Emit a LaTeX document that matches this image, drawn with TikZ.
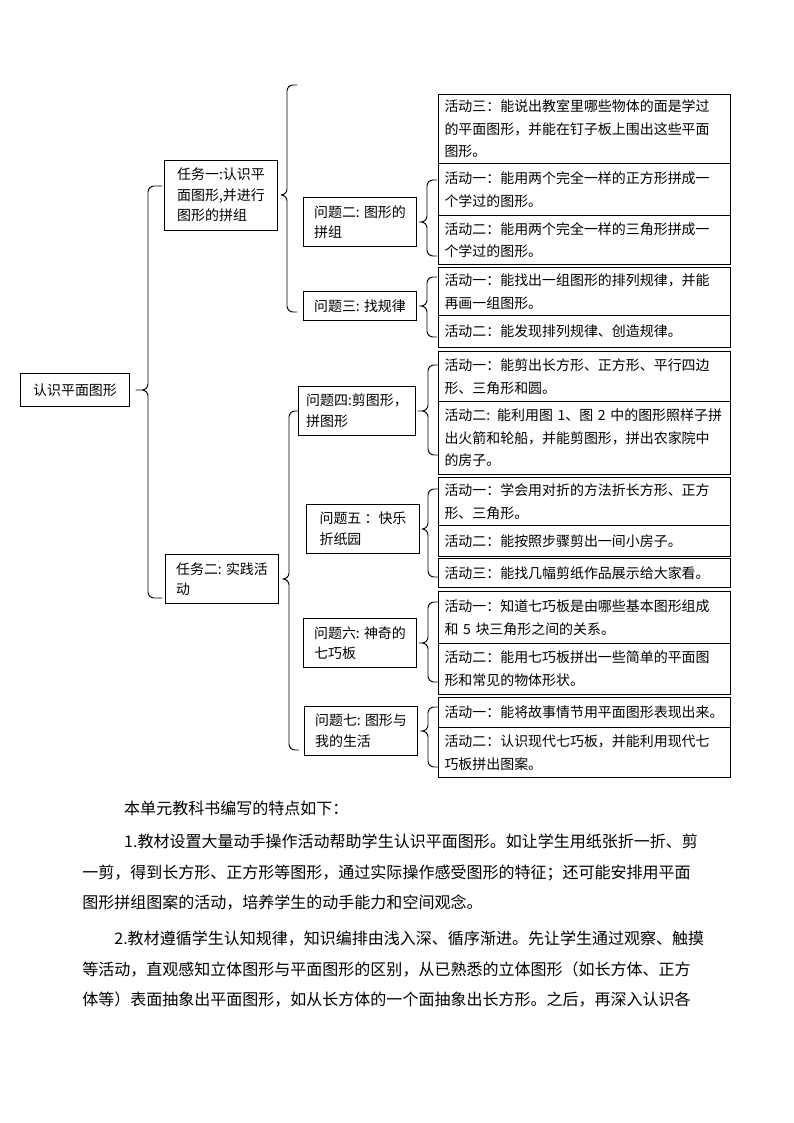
\documentclass[tikz,border=0pt]{standalone}
\usepackage{fontspec}
\setmainfont{Noto Sans CJK SC}
\usetikzlibrary{calc}

\begin{document}
\begin{tikzpicture}[
            x=0.2645mm, y=-0.2645mm,
            every node/.style = {font=\fontsize{10.5pt}{15.5pt}\selectfont},
            box/.style = {draw, line width=0.7pt, align=left, minimum width=30mm,
                    inner xsep=2mm, inner ysep=2.1mm},
            leaf/.style = {draw, line width=0.7pt, anchor=north west, align=left,
                    text width=74mm, inner xsep=1.6mm, inner ysep=1pt,
                    minimum height=#1*0.2645mm, font=\fontsize{10.5pt}{17pt}\selectfont},
            brace/.style = {line width=0.7pt, rounded corners=1.6mm},
            para/.style = {anchor=north west, align=left, inner sep=0pt,
                    font=\fontsize{12.05pt}{22.9pt}\selectfont}]

        \useasboundingbox (0,0) rectangle (794,1123);

        % Tree
        \node [box, minimum width=28.6mm, minimum height=8.7mm]
                            (root) at (75,390) {认识平面图形};
        \node [box]         (t1) at (221,195) {任务一:认识平\\面图形,并进行\\图形的拼组};
        \node [box]         (t2) at (222,579) {任务二: 实践活\\动};
        \node [box]         (q2) at (360,222) {问题二: 图形的\\拼组};
        \node [box]         (q3) at (360,306) {问题三: 找规律};
        \node [box]         (q4) at (357,411) {问题四:剪图形，\\拼图形};
        \node [box]         (q5) at (363,529) {问题五 ：快乐\\折纸园};
        \node [box]         (q6) at (360,643) {问题六: 神奇的\\七巧板};
        \node [box]         (q7) at (361,731) {问题七: 图形与\\我的生活};

        % Activities
        \node [leaf=69] (t1a) at (438,94)  {活动三：能说出教室里哪些物体的面是学过\\的平面图形，并能在钉子板上围出这些平面\\图形。};
        \node [leaf=52] (q2a) at (438,163) {活动一：能用两个完全一样的正方形拼成一\\个学过的图形。};
        \node [leaf=49] (q2b) at (438,215) {活动二：能用两个完全一样的三角形拼成一\\个学过的图形。};
        \node [leaf=48] (q3a) at (438,267) {活动一：能找出一组图形的排列规律，并能\\再画一组图形。};
        \node [leaf=32] (q3b) at (438,315) {活动二：能发现排列规律、创造规律。};
        \node [leaf=50] (q4a) at (438,351) {活动一：能剪出长方形、正方形、平行四边\\形、三角形和圆。};
        \node [leaf=73] (q4b) at (438,401) {活动二: 能利用图 1、图 2 中的图形照样子拼\\出火箭和轮船，并能剪图形，拼出农家院中\\的房子。};
        \node [leaf=48] (q5a) at (438,477) {活动一：学会用对折的方法折长方形、正方\\形、三角形。};
        \node [leaf=31] (q5b) at (438,525) {活动二：能按照步骤剪出一间小房子。};
        \node [leaf=29] (q5c) at (438,558) {活动三：能找几幅剪纸作品展示给大家看。};
        \node [leaf=52] (q6a) at (438,591) {活动一：知道七巧板是由哪些基本图形组成\\和 5 块三角形之间的关系。};
        \node [leaf=51] (q6b) at (438,643) {活动二：能用七巧板拼出一些简单的平面图\\形和常见的物体形状。};
        \node [leaf=30] (q7a) at (438,697) {活动一：能将故事情节用平面图形表现出来。};
        \node [leaf=50] (q7b) at (438,727) {活动二：认识现代七巧板，并能利用现代七\\巧板拼出图案。};

        % Braces
        \foreach \p/\s/\t/\b/\g/\h in {root/148/186/598/6/14, t1/287/85/312/3/10,
                t2/289/411/750/3/10, q2/427/180/256/2/10, q3/427/277/337/2/10,
                q4/428/365/455/2/10, q5/428/489/577/2/10, q6/428/602/682/2/10,
                q7/428/707/767/2/10}
            \draw [brace] ({\s+\h},\t) -| (\s,0 |- \p.east) -- ($(\p.east)+(\g,0)$)
                          ({\s+\h},\b) -| (\s,0 |- \p.east) -- ($(\p.east)+(\g,0)$);

        % Text
        \node [para] (p0) at (82,801) {\hspace*{11.1mm}本单元教科书编写的特点如下：};
        \node [para] (p1) at (82,834) {\hspace*{11.1mm}1.教材设置大量动手操作活动帮助学生认识平面图形。如让学生用纸张折一折、剪\\一剪，得到长方形、正方形等图形，通过实际操作感受图形的特征；还可能安排用平面\\图形拼组图案的活动，培养学生的动手能力和空间观念。};
        \node [para] (p2) at (82,931) {\hspace*{8.5mm}2.教材遵循学生认知规律，知识编排由浅入深、循序渐进。先让学生通过观察、触摸\\等活动，直观感知立体图形与平面图形的区别，从已熟悉的立体图形（如长方体、正方\\体等）表面抽象出平面图形，如从长方体的一个面抽象出长方形。之后，再深入认识各};
    \end{tikzpicture}
\end{document}
